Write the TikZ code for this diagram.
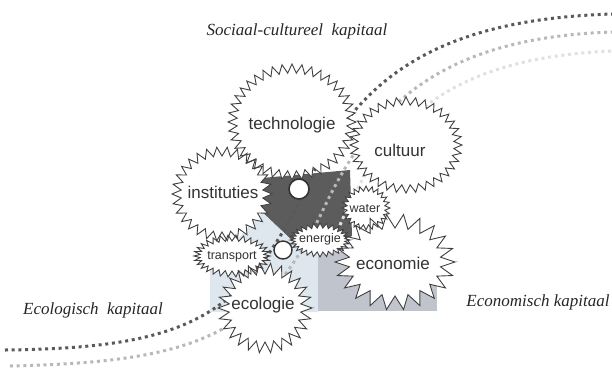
\documentclass[tikz,border=0pt]{standalone}
\usepackage{fontspec}
\setmainfont{Liberation Serif}
\newfontfamily\gearfont{Liberation Sans}

\definecolor{darkzone}{RGB}{92,92,92}
\definecolor{ecozone}{RGB}{222,230,238}
\definecolor{econzone}{RGB}{192,196,205}

\tikzset{
    gearline/.style={draw=black!75, line width=0.9pt, line join=miter},
    gearlabel/.style={font=\gearfont\fontsize{17}{17}\selectfont, text=black!80, inner sep=0pt},
    smalllabel/.style={font=\gearfont\fontsize{12.5}{12.5}\selectfont, text=black!80, inner sep=0pt},
    capital/.style={font=\itshape\fontsize{17}{17}\selectfont, text=black!85, inner sep=0pt},
    dots/.style={line width=3pt, dash pattern=on 3pt off 3.7pt},
}

% x / y / rx / ry / teeth / depth
\def\gears{292/122/64/58/40/9, 406/145/56/48/36/8, 222/194/50/47/30/9,
    366/208/24/22/24/5, 320/240/30/17/28/5, 232/256/38/21/30/6,
    395/262/60/48/22/14, 265/308/47/45/26/11}

\begin{document}
\begin{tikzpicture}[x=1pt, y=-1pt]
    \useasboundingbox (0,0) rectangle (612,376);

    % zones
    \fill[darkzone] (262,178) -- (350,170) -- (352,236) -- (318,252) -- (300,248) -- (262,212) -- cycle;
    \fill[ecozone] (262,212) -- (300,248) -- (318,252) -- (318,312) -- (210,312) -- (210,270) -- cycle;
    \fill[econzone] (318,252) rectangle (437,311);

    % dotted curves
    \draw[dots, black!65] (5,350) .. controls (180,348) and (240,320) .. (300,200)
        .. controls (350,90) and (420,20) .. (612,14);
    \draw[dots, black!28] (10,366) .. controls (190,362) and (262,338) .. (322,212)
        .. controls (370,110) and (435,38) .. (612,32);
    \draw[dots, black!12] (340,225) .. controls (385,120) and (450,58) .. (612,51);

    % gears
    \foreach \cx/\cy/\rx/\ry/\n/\d in \gears {
        \pgfmathtruncatemacro\ns{2*\n+1}
        \fill[white] plot[samples=\ns, domain=0:360, variable=\t]
            ({\cx+(\rx-\d*mod(round(\t*\n/180),2))*cos(\t)}, {\cy+(\ry-\d*mod(round(\t*\n/180),2))*sin(\t)}) -- cycle;
    }
    \foreach \cx/\cy/\rx/\ry/\n/\d in \gears {
        \pgfmathtruncatemacro\ns{2*\n+1}
        \draw[gearline] plot[samples=\ns, domain=0:360, variable=\t]
            ({\cx+(\rx-\d*mod(round(\t*\n/180),2))*cos(\t)}, {\cy+(\ry-\d*mod(round(\t*\n/180),2))*sin(\t)}) -- cycle;
    }
    \draw[fill=white, draw=black!80, line width=1.6pt] (299,189) circle (10);
    \draw[fill=white, draw=black!80, line width=1.4pt] (283,250) circle (9);

    \node[gearlabel] (technologie) at (292,125) {technologie};
    \node[gearlabel] (cultuur) at (400,150) {cultuur};
    \node[gearlabel] (instituties) at (223,192) {instituties};
    \node[smalllabel] (water) at (365,209) {water};
    \node[smalllabel] (energie) at (320,239) {energie};
    \node[smalllabel] (transport) at (232,257) {transport};
    \node[gearlabel] (economie) at (393,263) {economie};
    \node[gearlabel] (ecologie) at (263,305) {ecologie};

    \node[capital] (sociaal) at (297,31) {Sociaal-cultureel\ \ kapitaal};
    \node[capital] (ecologisch) at (93,310) {Ecologisch\ \ kapitaal};
    \node[capital] (economisch) at (538,302) {Economisch kapitaal};
\end{tikzpicture}
\end{document}
